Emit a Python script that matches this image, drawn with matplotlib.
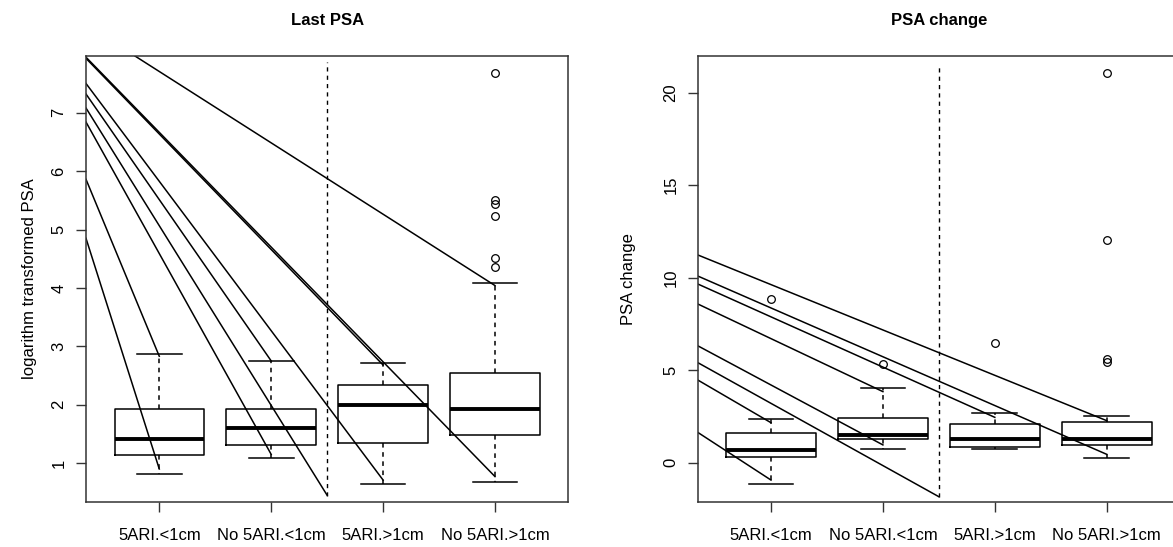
import matplotlib
matplotlib.use("Agg")
import matplotlib.pyplot as plt

plt.rcParams["font.family"] = ["Liberation Sans", "DejaVu Sans"]

groups = ["5ARI.<1cm", "No 5ARI.<1cm", "5ARI.>1cm", "No 5ARI.>1cm"]

# --- Last PSA (log) box stats ---
last_q1 = [1.14, 1.31, 1.35, 1.49]
last_med = [1.42, 1.61, 1.99, 1.93]
last_q3 = [1.93, 1.93, 2.34, 2.55]
last_lo = [0.82, 1.09, 0.64, 0.67]
last_hi = [2.87, 2.75, 2.72, 4.09]
last_fliers = [[], [], [], [7.68, 5.50, 5.44, 5.23, 4.52, 4.35]]

# stray lines on the left panel (start -> end)
last_x0 = [0.345, 0.345, 0.345, 0.345, 0.345, 0.345, 0.345, 0.345, 0.783]
last_y0 = [4.85, 5.86, 6.84, 7.08, 7.32, 7.50, 7.93, 7.95, 7.97]
last_x1 = [1.0, 1.0, 2.0, 2.5, 2.0, 3.0, 3.0, 4.0, 4.0]
last_y1 = [0.90, 2.83, 1.15, 0.45, 2.75, 0.71, 2.68, 0.77, 4.04]

# --- PSA change box stats ---
chg_q1 = [0.29, 1.30, 0.83, 0.94]
chg_med = [0.69, 1.51, 1.30, 1.30]
chg_q3 = [1.62, 2.43, 2.09, 2.22]
chg_lo = [-1.17, 0.72, 0.72, 0.24]
chg_hi = [2.38, 4.02, 2.70, 2.52]
chg_fliers = [[8.85], [5.34], [6.49], [21.08, 12.04, 5.59, 5.45]]

chg_x0 = [0.345] * 8
chg_y0 = [1.64, 4.47, 5.41, 6.32, 8.58, 9.66, 10.09, 11.23]
chg_x1 = [1.0, 1.0, 2.5, 2.0, 2.0, 3.0, 4.0, 4.0]
chg_y1 = [-0.94, 2.16, -1.84, 0.96, 3.84, 2.45, 0.45, 2.27]

positions = [1, 2, 3, 4]


def draw_panel(ax, q1, med, q3, lo, hi, fliers, x0, y0, x1, y1,
               ylim, yticks, vrange, title, ylabel, ylab_x):
    stats = []
    for i in range(len(groups)):
        stats.append(dict(q1=q1[i], med=med[i], q3=q3[i],
                          whislo=lo[i], whishi=hi[i], fliers=fliers[i]))
    ax.bxp(stats, positions=positions, widths=0.8, capwidths=0.4,
           manage_ticks=False,
           boxprops=dict(color="black", lw=1.1),
           whiskerprops=dict(color="black", lw=1.1, linestyle=(0, (3, 3))),
           capprops=dict(color="black", lw=1.1),
           medianprops=dict(color="black", lw=2.8, solid_capstyle="butt"),
           flierprops=dict(marker="o", mfc="none", mec="black", ms=5.5, mew=0.9))

    for a, b, c, d in zip(x0, y0, x1, y1):
        ax.plot([a, c], [b, d], color="black", lw=1.1)

    ax.vlines(2.5, vrange[0], vrange[1], colors="black", lw=1.0,
              linestyles=(0, (3, 3)))

    ax.set_xlim(0.345, 4.655)
    ax.set_ylim(*ylim)
    ax.set_xticks(positions)
    ax.set_xticklabels(groups)
    ax.set_yticks(yticks)
    ax.set_yticklabels([str(t) for t in yticks], rotation=90, va="center")
    ax.tick_params(axis="x", length=7, width=1, pad=12, labelsize=12, color="#333333")
    ax.tick_params(axis="y", length=7, width=1, pad=7, labelsize=12, color="#333333")
    for s in ax.spines.values():
        s.set_color("#333333")
        s.set_linewidth(1.1)
    ax.set_title(title, fontsize=12, fontweight="bold", pad=22)
    ax.set_ylabel(ylabel, fontsize=12)
    ax.yaxis.set_label_coords(ylab_x, 0.5)


fig = plt.figure(figsize=(11.73, 5.47), dpi=100)
ax1 = fig.add_axes([0.0733, 0.0828, 0.4112, 0.8148])
ax2 = fig.add_axes([0.5948, 0.0828, 0.4112, 0.8148])

draw_panel(ax1, last_q1, last_med, last_q3, last_lo, last_hi, last_fliers,
           last_x0, last_y0, last_x1, last_y1,
           (0.34, 7.97), [1, 2, 3, 4, 5, 6, 7], (0.43, 7.86),
           "Last PSA", "logarithm transformed PSA", -0.102)
draw_panel(ax2, chg_q1, chg_med, chg_q3, chg_lo, chg_hi, chg_fliers,
           chg_x0, chg_y0, chg_x1, chg_y1,
           (-2.11, 21.98), [0, 5, 10, 15, 20], (-1.84, 21.55),
           "PSA change", "PSA change", -0.128)

fig.savefig("out.png", dpi=100)
